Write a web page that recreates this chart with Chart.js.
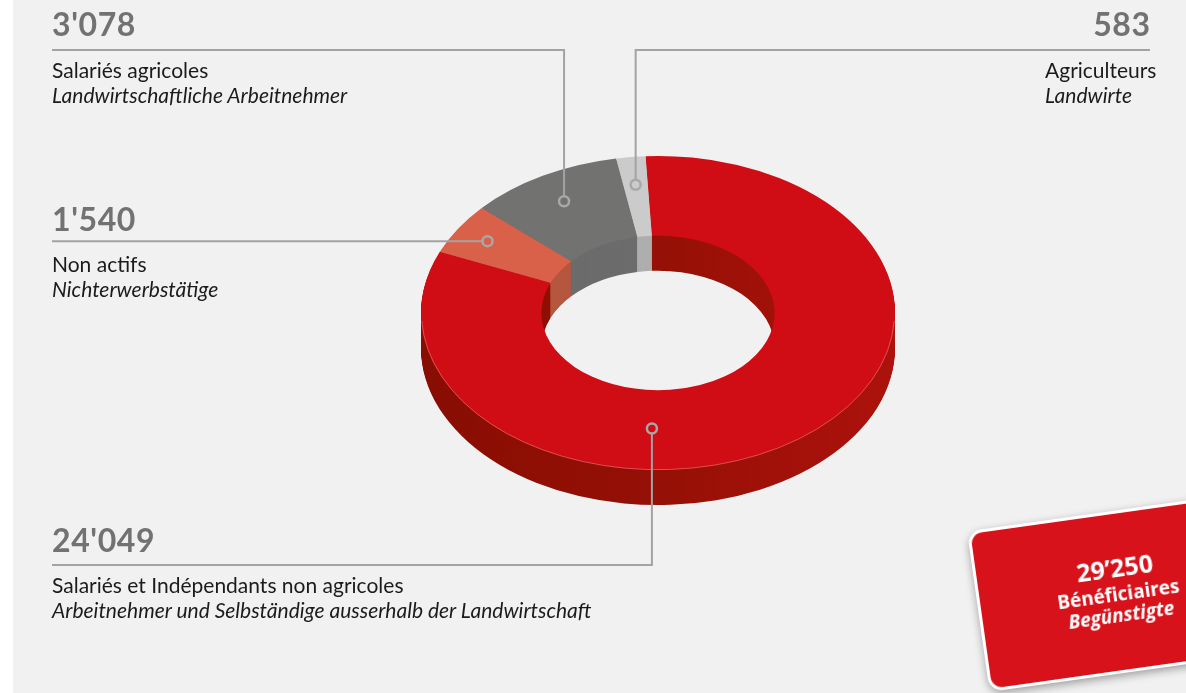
<!DOCTYPE html>
<html><head><meta charset="utf-8">
<script src="https://cdn.jsdelivr.net/npm/chart.js@4/dist/chart.umd.min.js"></script>
<style>
html,body{margin:0;padding:0;}
body{width:1186px;height:693px;position:relative;overflow:hidden;background:#fff;font-family:Lato,sans-serif;}
#bg{position:absolute;left:13px;top:0;right:0;bottom:0;background:#f1f1f1;}
#c{position:absolute;left:0;top:0;}
.num{position:absolute;font:700 32px/32px Lato,sans-serif;letter-spacing:0.6px;color:#727272;white-space:nowrap;}
.txt{position:absolute;font:400 21px/25px Lato,sans-serif;color:#1b1b1b;white-space:nowrap;}
.txt i{font-style:italic;}
#card{position:absolute;left:977px;top:511px;width:282px;height:162px;box-sizing:border-box;
  background:#d7121b;border:3px solid #fff;border-radius:14px;transform:rotate(-8deg);
  box-shadow:0 3px 9px rgba(0,0,0,0.35);color:#fff;font-family:"Open Sans",sans-serif;
  display:flex;flex-direction:column;align-items:center;justify-content:center;}
#card .n{font-weight:700;font-size:25px;line-height:30px;margin-bottom:2px;margin-top:-6px;}
#card .b{font-weight:700;font-size:19px;line-height:21px;}
#card .g{font-weight:700;font-style:italic;font-size:19px;line-height:21px;}
</style></head><body>
<div id="bg"></div>
<canvas id="c" width="1186" height="693"></canvas>
<div id="labels"></div>
<div id="card"><div class="n" id="total"></div><div class="b">Bénéficiaires</div><div class="g">Begünstigte</div></div>
<script>
// ---- data ----
const categoriesFr = ['Salariés et Indépendants non agricoles', 'Non actifs', 'Salariés agricoles', 'Agriculteurs'];
const categoriesDe = ['Arbeitnehmer und Selbständige ausserhalb der Landwirtschaft', 'Nichterwerbstätige', 'Landwirtschaftliche Arbeitnehmer', 'Landwirte'];
const values = [24049, 1540, 3078, 583];
const valueLabels = ["24'049", "1'540", "3'078", "583"];

// ---- styles / layout ----
const topColors = ['#d00c14', '#d9614a', '#727271', '#cbcbcb'];
const sideColors = [null, '#b5563e', '#6c6c6c', '#aeaeae'];
const SQ = 0.6625, DEPTH = 35;
const labelLayout = [
  {align:'left', numX:52, txtX:52, numTop:524, txtTop:572, lineX:52, lineY:565},
  {align:'left', numX:52, txtX:52, numTop:202.5, txtTop:251, lineX:52, lineY:null},
  {align:'left', numX:52, txtX:52, numTop:8, txtTop:57, lineX:52, lineY:50},
  {align:'right', numX:1150, txtX:1045, numTop:8, txtTop:57, lineX:1150, lineY:50}
];
const anchors = [{angleDeg:92, frac:0.48}, {frac:0.71}, {frac:0.635}, {frac:0.65}];

// ---- labels (real text) ----
const lab = document.getElementById('labels');
labelLayout.forEach((L,i)=>{
  const n = document.createElement('div'); n.className='num'; n.textContent = valueLabels[i];
  n.style.top = L.numTop+'px';
  if (L.align==='right') n.style.right = (1186-L.numX-0.6)+'px'; else n.style.left = L.numX+'px';
  lab.appendChild(n);
  const t = document.createElement('div'); t.className='txt';
  t.style.top = L.txtTop+'px'; t.style.left = L.txtX+'px';
  t.innerHTML = categoriesFr[i] + '<br><i>' + categoriesDe[i] + '</i>';
  lab.appendChild(t);
});
const total = values.reduce((a,b)=>a+b,0);
document.getElementById('total').textContent = String(total).replace(/\B(?=(\d{3})+(?!\d))/g,'’');

// ---- 3D extrusion plugin ----
function squash(ctx, cy, dy){ ctx.translate(0, cy + dy); ctx.scale(1, SQ); ctx.translate(0, -cy); }
const extrude = {
  id:'extrude',
  beforeDatasetsDraw(chart){
    const ctx = chart.ctx, meta = chart.getDatasetMeta(0), ca = chart.chartArea;
    const cy = (ca.top+ca.bottom)/2;
    const g = ctx.createLinearGradient(ca.left,0,ca.right,0);
    g.addColorStop(0,'#880d02'); g.addColorStop(0.5,'#951006'); g.addColorStop(1,'#ad120c');
    for (let d = DEPTH; d >= 1; d--) {
      ctx.save(); squash(ctx, cy, d);
      meta.data.forEach((arc,i)=>{
        const p = arc.getProps(['x','y','startAngle','endAngle','innerRadius','outerRadius'], true);
        ctx.beginPath();
        ctx.arc(p.x,p.y,p.outerRadius,p.startAngle,p.endAngle);
        ctx.arc(p.x,p.y,p.innerRadius,p.endAngle,p.startAngle,true);
        ctx.closePath();
        ctx.fillStyle = i===0 ? g : sideColors[i];
        ctx.fill();
      });
      ctx.restore();
    }
    ctx.save(); squash(ctx, cy, 0);
  },
  afterDatasetsDraw(chart){
    const ctx = chart.ctx; ctx.restore();
    const meta = chart.getDatasetMeta(0), ca = chart.chartArea;
    const cy = (ca.top+ca.bottom)/2;
    // faint highlight on the front rim of the top face
    const p0 = meta.data[0].getProps(['x','y','outerRadius'], true);
    ctx.save(); squash(ctx, cy, 0);
    ctx.beginPath(); ctx.arc(p0.x, p0.y, p0.outerRadius-0.5, 0.05, Math.PI-0.05);
    ctx.restore();
    ctx.save(); ctx.strokeStyle='rgba(255,200,200,0.35)'; ctx.lineWidth=1; ctx.stroke(); ctx.restore();

    meta.data.forEach((arc,i)=>{
      const p = arc.getProps(['x','y','startAngle','endAngle','innerRadius','outerRadius'], true);
      const A = anchors[i];
      const a = A.angleDeg!==undefined ? A.angleDeg*Math.PI/180 : (p.startAngle+p.endAngle)/2;
      const r = p.innerRadius + A.frac*(p.outerRadius-p.innerRadius);
      const px = p.x + r*Math.cos(a), py = p.y + SQ*r*Math.sin(a);
      const L = labelLayout[i];
      const ly = L.lineY===null ? py : L.lineY;
      const R = 5;
      ctx.save();
      ctx.strokeStyle = '#a3a3a3'; ctx.lineWidth = 2;
      ctx.beginPath();
      ctx.moveTo(L.lineX, ly);
      if (Math.abs(ly-py) < 0.5) {
        ctx.lineTo(px + (L.lineX<px ? -R : R), ly);
      } else {
        ctx.lineTo(px, ly);
        ctx.lineTo(px, py + (ly<py ? -R : R));
      }
      ctx.stroke();
      ctx.lineWidth = 2.5; ctx.strokeStyle = '#a8a8a8';
      ctx.beginPath(); ctx.arc(px, py, R, 0, Math.PI*2); ctx.stroke();
      ctx.restore();
    });
  }
};

new Chart(document.getElementById('c'), {
  type:'doughnut',
  data:{ labels: categoriesFr, datasets:[{ data: values, backgroundColor: topColors, borderWidth:0 }] },
  options:{
    responsive:false, animation:false, cutout:'49.2%', rotation:-3,
    layout:{ padding:{ left:421, right:291, top:76, bottom:143 } },
    plugins:{ legend:{display:false}, tooltip:{enabled:false} },
    events:[]
  },
  plugins:[extrude]
});
</script>
</body></html>
